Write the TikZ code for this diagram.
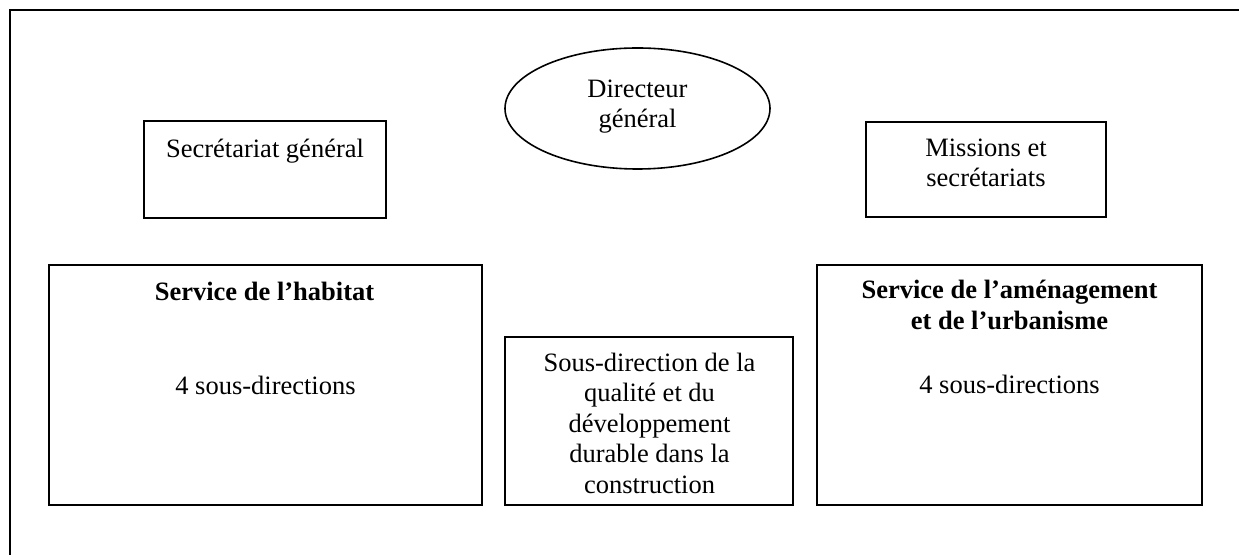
\documentclass[tikz,border=0pt]{standalone}
\usepackage{fontspec}
\setmainfont{Liberation Serif}
\usetikzlibrary{shapes.geometric}
\tikzset{
  box/.style={draw, line width=0.8pt, inner sep=0pt, outer sep=0pt},
  txt/.style={align=center, inner sep=0pt, font=\fontsize{13.25}{15.25}\selectfont},
  btxt/.style={align=center, inner sep=0pt, font=\fontsize{13.25}{15.25}\selectfont\bfseries}
}
\begin{document}
\begin{tikzpicture}[x=0.5pt,y=-0.5pt]
\useasboundingbox (0,0) rectangle (1239,555);
% outer frame (only left and top visible)
\draw[line width=1.1pt] (10,555) -- (10,10) -- (1239,10);
% shapes
\node[box, ellipse, minimum width=132.5pt, minimum height=60.5pt] (dg) at (637.5,108.5) {};
\node[box, minimum width=121pt, minimum height=48.5pt] (sg) at (265,169.5) {};
\node[box, minimum width=120pt, minimum height=47.5pt] (ms) at (986,169.5) {};
\node[box, minimum width=216.5pt, minimum height=120pt] (hab) at (265.5,385) {};
\node[box, minimum width=192.5pt, minimum height=120pt] (amu) at (1009.5,385) {};
\node[box, minimum width=144pt, minimum height=84pt] (qdd) at (649,421) {};
% texts
\node[txt] (dgt) at (637.5,106.6) {\strut Directeur\\ général\strut};
\node[txt] (sgt) at (265,151) {\strut Secrétariat général\strut};
\node[txt] (mst) at (986,165.4) {\strut Missions et\\ secrétariats\strut};
\node[btxt] (habt) at (264.5,294) {\strut Service de l’habitat\strut};
\node[txt] (habs) at (265.5,388) {\strut 4 sous-directions\strut};
\node[btxt] (amut) at (1009.5,308) {\strut Service de l’aménagement\\ et de l’urbanisme\strut};
\node[txt] (amus) at (1009.5,387) {\strut 4 sous-directions\strut};
\node[txt] (qddt) at (649.5,426.4) {\strut Sous-direction de la\\ qualité et du\\ développement\\ durable dans la\\ construction\strut};
\end{tikzpicture}
\end{document}
